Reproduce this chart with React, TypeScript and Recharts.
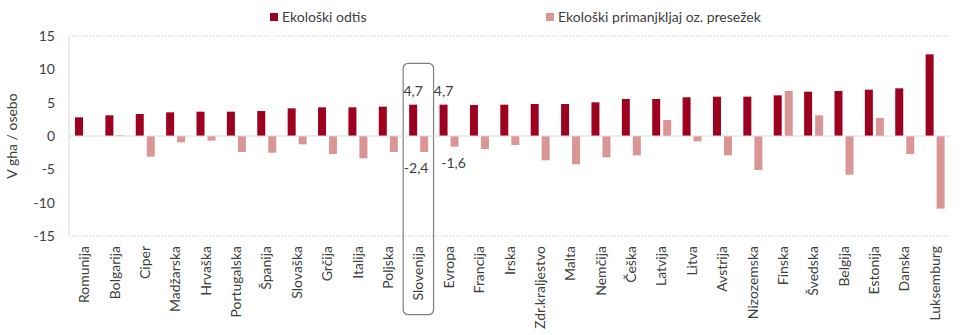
import {
  Bar,
  BarChart,
  CartesianGrid,
  LabelList,
  ReferenceArea,
  ReferenceLine,
  XAxis,
  YAxis,
} from "recharts";

const categories = [
  "Romunija", "Bolgarija", "Ciper", "Madžarska", "Hrvaška", "Portugalska",
  "Španija", "Slovaška", "Grčija", "Italija", "Poljska", "Slovenija",
  "Evropa", "Francija", "Irska", "Zdr.kraljestvo", "Malta", "Nemčija",
  "Češka", "Latvija", "Litva", "Avstrija", "Nizozemska", "Finska",
  "Švedska", "Belgija", "Estonija", "Danska", "Luksemburg",
];

// ekološki odtis (gha / osebo)
const footprint = [
  2.8, 3.1, 3.3, 3.55, 3.65, 3.65, 3.75, 4.15, 4.3, 4.3, 4.4, 4.7,
  4.7, 4.65, 4.7, 4.8, 4.8, 5.05, 5.55, 5.55, 5.8, 5.9, 5.9, 6.1,
  6.65, 6.75, 6.95, 7.15, 12.25,
];

// ekološki primanjkljaj (-) oz. presežek (+)
const balance = [
  0, 0.1, -3.1, -0.95, -0.7, -2.4, -2.5, -1.25, -2.7, -3.35, -2.4, -2.4,
  -1.6, -1.95, -1.35, -3.65, -4.25, -3.2, -2.9, 2.4, -0.8, -2.9, -5.1, 6.75,
  3.1, -5.8, 2.7, -2.7, -10.9,
];

const yTicks = [-15, -10, -5, 0, 5, 10, 15];
const labelled = ["Slovenija", "Evropa"];
const highlighted = "Slovenija";

const DARK = "#9e0020";
const LIGHT = "#d99694";
const TEXT = "#404040";
const FONT = "Lato, 'Open Sans', sans-serif";
const FS = 14;

const data = categories.map((name, i) => ({
  name,
  footprint: footprint[i],
  balance: balance[i],
}));

const fmt = (v: number) => String(v).replace(".", ",");

function CategoryTick(props: any) {
  const { x, y, payload } = props;
  return (
    <text
      transform={`translate(${x + 5},${y + 2}) rotate(-90)`}
      textAnchor="end"
      fontSize={FS}
      fill={TEXT}
      fontFamily={FONT}
    >
      {payload.value}
    </text>
  );
}

// label lists get the category name as value, the number is looked up
function TopLabel(props: any) {
  const { x, y, width, value } = props;
  if (!labelled.includes(value)) return null;
  const v = footprint[categories.indexOf(value)];
  return (
    <text x={x + width / 2} y={y - 9} textAnchor="middle" fontSize={FS} fill={TEXT} fontFamily={FONT}>
      {fmt(v)}
    </text>
  );
}

function BottomLabel(props: any) {
  const { x, y, width, height, value } = props;
  if (!labelled.includes(value)) return null;
  const v = balance[categories.indexOf(value)];
  const bottom = Math.max(y, y + height);
  // keep the Slovenija label inside its frame
  const shift = value === highlighted ? -8 : -1;
  return (
    <text
      x={x + width / 2 + shift}
      y={bottom + 21}
      textAnchor="middle"
      fontSize={FS}
      fill={TEXT}
      fontFamily={FONT}
    >
      {fmt(v)}
    </text>
  );
}

function LegendItem({ color, text, left }: { color: string; text: string; left: number }) {
  return (
    <div style={{ position: "absolute", left, top: 8, display: "flex", alignItems: "center" }}>
      <span style={{ width: 8, height: 8, background: color, marginRight: 4 }} />
      <span style={{ fontSize: FS, color: TEXT, fontFamily: FONT }}>{text}</span>
    </div>
  );
}

export default function App() {
  return (
    <div style={{ position: "absolute", left: 0, top: 0, width: 960, height: 335, background: "#fff" }}>
      <LegendItem color={DARK} text="Ekološki odtis" left={270} />
      <LegendItem color={LIGHT} text="Ekološki primanjkljaj oz. presežek" left={546} />
      <BarChart
        width={960}
        height={335}
        data={data}
        margin={{ top: 36, right: 10, left: 0, bottom: 0 }}
        barSize={8}
        barGap={3}
      >
        <CartesianGrid vertical={false} stroke="#bfbfbf" strokeDasharray="1 2" />
        <XAxis
          dataKey="name"
          interval={0}
          height={99}
          axisLine={false}
          tickLine={false}
          tick={<CategoryTick />}
        />
        <YAxis
          yAxisId="left"
          domain={[-15, 15]}
          ticks={yTicks}
          width={69}
          tickLine={false}
          tickMargin={8}
          axisLine={{ stroke: "#d9d9d9" }}
          tick={{ fontSize: FS, fill: TEXT, fontFamily: FONT }}
          label={{
            value: "V gha / osebo",
            angle: -90,
            position: "center",
            dx: -22,
            fontSize: FS,
            fill: TEXT,
            fontFamily: FONT,
          }}
        />
        <YAxis
          yAxisId="right"
          orientation="right"
          domain={[-15, 15]}
          width={0}
          tick={false}
          tickLine={false}
          axisLine={{ stroke: "#d9d9d9" }}
        />
        <ReferenceLine yAxisId="left" y={0} stroke="#d9d9d9" />
        <Bar yAxisId="left" dataKey="footprint" fill={DARK} isAnimationActive={false}>
          <LabelList dataKey="name" content={<TopLabel />} />
        </Bar>
        <Bar yAxisId="left" dataKey="balance" fill={LIGHT} isAnimationActive={false}>
          <LabelList dataKey="name" content={<BottomLabel />} />
        </Bar>
        <ReferenceArea
          yAxisId="left"
          x1={highlighted}
          x2={highlighted}
          y1={-26.8}
          y2={10.9}
          ifOverflow="visible"
          fill="none"
          fillOpacity={0}
          stroke="#7f7f7f"
          strokeWidth={1.2}
          radius={5}
        />
      </BarChart>
    </div>
  );
}
